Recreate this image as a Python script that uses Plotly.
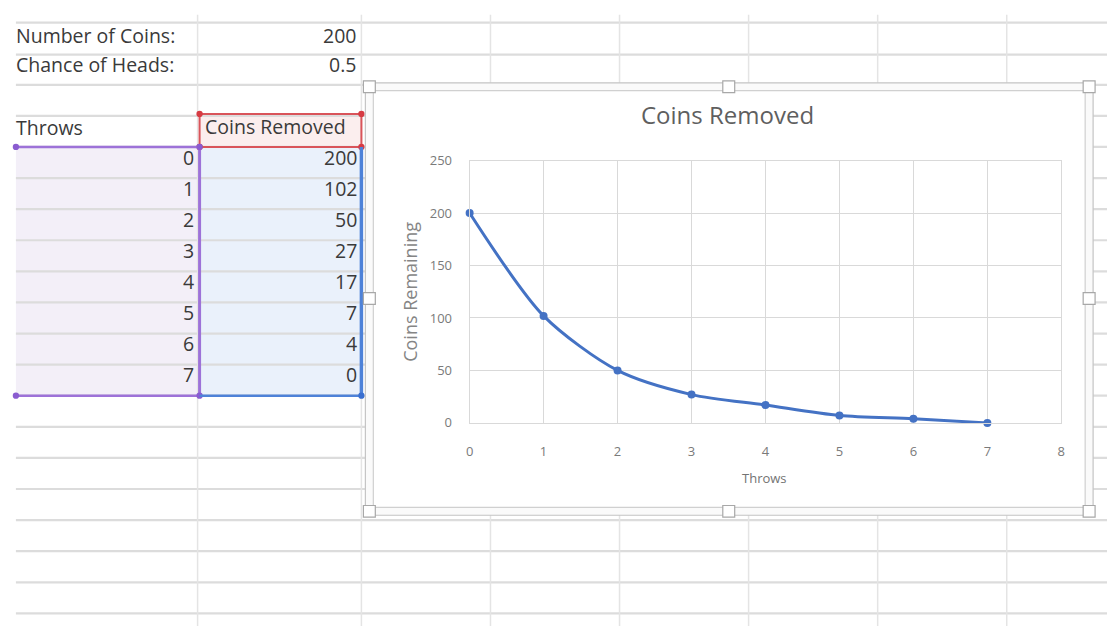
import plotly.graph_objects as go

# ---------------- data ----------------
throws = [0, 1, 2, 3, 4, 5, 6, 7]
coins_removed = [200, 102, 50, 27, 17, 7, 4, 0]
param_labels = ["Number of Coins:", "Chance of Heads:"]
param_values = ["200", "0.5"]
col_headers = ["Throws", "Coins Removed"]
chart_title = "Coins Removed"
x_title = "Throws"
y_title = "Coins Remaining"
x_ticks = [0, 1, 2, 3, 4, 5, 6, 7, 8]
y_ticks = [0, 50, 100, 150, 200, 250]

# ---------------- layout helpers ----------------
W, H = 1111, 635


def fx(x):
    return x / W


def fy(y):
    return 1 - y / H


FONT = "Open Sans"
SHEET_TXT = "#3a3a3a"
GRID = "#dcdcdc"

shapes = []
annotations = []


def rect(x0, y0, x1, y1, line=None, lw=1, fill=None, layer="below"):
    shapes.append(dict(type="rect", xref="paper", yref="paper",
                       x0=fx(x0), x1=fx(x1), y0=fy(y1), y1=fy(y0),
                       line=dict(color=line or "rgba(0,0,0,0)", width=lw if line else 0),
                       fillcolor=fill or "rgba(0,0,0,0)", layer=layer))


def seg(x0, y0, x1, y1, color, lw, layer="below"):
    shapes.append(dict(type="line", xref="paper", yref="paper",
                       x0=fx(x0), x1=fx(x1), y0=fy(y0), y1=fy(y1),
                       line=dict(color=color, width=lw), layer=layer))


def dot(x, y, color, r=3.2, layer="below"):
    shapes.append(dict(type="circle", xref="paper", yref="paper",
                       x0=fx(x - r), x1=fx(x + r), y0=fy(y + r), y1=fy(y - r),
                       line=dict(width=0), fillcolor=color, layer=layer))


def text(x, y, s, size=19.5, color=SHEET_TXT, anchor="left", angle=0):
    annotations.append(dict(xref="paper", yref="paper", x=fx(x), y=fy(y),
                            text=s, showarrow=False, xanchor=anchor,
                            yanchor="middle", textangle=angle, borderpad=0,
                            font=dict(family=FONT, size=size, color=color)))


# ---------------- spreadsheet background ----------------
row_lines = [14, 47, 78, 110, 142, 174, 206, 238, 270, 302, 334, 366, 398,
             430, 462, 494, 526, 558, 590, 622]
col_lines = [195, 360, 490, 620, 750, 880, 1010]

# selection fills
rect(12, 142, 197, 398, fill="#f3eff8")
rect(197, 142, 360, 398, fill="#eaf1fb")
rect(197, 108, 360, 142, fill="#fbeeee")

for y in row_lines:
    seg(12, y, W, y, GRID, 2.2)
for x in col_lines:
    seg(x, 6, x, H, "#e4e4e4", 1.5)

# red header box
rect(197, 108, 360, 142, line="#d9545a", lw=2)
for (x, y) in [(197, 108), (360, 108), (197, 142), (360, 142)]:
    dot(x, y, "#d63b43")

# purple (Throws) selection
seg(12, 142, 197, 142, "#9d72d8", 2.5)
seg(12, 398, 197, 398, "#9d72d8", 2.5)
seg(197, 142, 197, 398, "#9d72d8", 3)
for (x, y) in [(12, 142), (197, 142), (12, 398), (197, 398)]:
    dot(x, y, "#8a5cd0")

# blue (Coins Removed) selection
seg(197, 398, 360, 398, "#4e82d8", 2.5)
seg(360, 142, 360, 398, "#4e82d8", 3.5)
dot(360, 398, "#3a6fd0")

# sheet texts
TY = -6  # optical offset
text(11, 33 + TY, param_labels[0])
text(356, 33 + TY, param_values[0], anchor="right")
text(11, 63 + TY, param_labels[1])
text(356, 63 + TY, param_values[1], anchor="right")
text(11, 128 + TY, col_headers[0])
text(201, 127 + TY, col_headers[1])
for i, (t, c) in enumerate(zip(throws, coins_removed)):
    yy = 159 + 31.9 * i + TY
    text(192, yy, str(t), anchor="right")
    text(357, yy, str(c), anchor="right")

# ---------------- chart object frame ----------------
rect(364, 76, 1097, 521, line="#c4c4c4", lw=1.2, fill="#fafafa")
rect(372, 84, 1089, 513, line="#d0d0d0", lw=1.2, fill="#ffffff")
for (x, y) in [(368, 80), (730, 80), (1093, 80), (368, 298), (1093, 298),
               (368, 517), (730, 517), (1093, 517)]:
    rect(x - 6, y - 6, x + 6, y + 6, line="#a8a8a8", lw=1.2, fill="#ffffff", layer="above")

# chart texts
text(729, 109, chart_title, size=24, color="#5f5f5f", anchor="center")
text(766, 483, x_title, size=13, color="#737373", anchor="center")
text(409, 291, y_title, size=18, color="#858585", anchor="center", angle=-90)

# ---------------- figure ----------------
fig = go.Figure()
fig.add_trace(go.Scatter(
    x=throws, y=coins_removed, mode="lines+markers",
    line=dict(color="#4472c4", width=3, shape="spline", smoothing=0.8),
    marker=dict(color="#4472c4", size=8, symbol="circle"),
    cliponaxis=False, hoverinfo="x+y"))

fig.update_layout(
    width=W, height=H, margin=dict(l=0, r=0, t=0, b=0, pad=0),
    paper_bgcolor="#ffffff", plot_bgcolor="rgba(0,0,0,0)",
    showlegend=False, shapes=shapes, annotations=annotations,
    font=dict(family=FONT),
    xaxis=dict(domain=[fx(469), fx(1065)], range=[0, 8], tickvals=x_ticks,
               showgrid=True, gridcolor="#d9d9d9", gridwidth=1,
               showline=True, mirror=True, linecolor="#d9d9d9", linewidth=1,
               zeroline=False, ticks="outside", ticklen=16,
               tickcolor="rgba(0,0,0,0)",
               tickfont=dict(family=FONT, size=13, color="#7a7a7a")),
    yaxis=dict(domain=[fy(426), fy(156)], range=[0, 250], tickvals=y_ticks,
               showgrid=True, gridcolor="#d9d9d9", gridwidth=1,
               showline=True, mirror=True, linecolor="#d9d9d9", linewidth=1,
               zeroline=False, ticks="outside", ticklen=14,
               tickcolor="rgba(0,0,0,0)",
               tickfont=dict(family=FONT, size=13, color="#7a7a7a")),
)

fig.write_html("out.html")
